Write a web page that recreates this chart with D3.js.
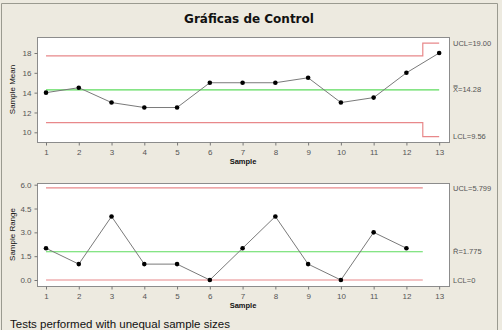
<!DOCTYPE html>
<html><head><meta charset="utf-8">
<script src="https://cdn.jsdelivr.net/npm/d3@7"></script>
<style>
html,body{margin:0;padding:0;background:#EDEAE0;}
svg{display:block;}
</style></head>
<body>
<script>
// ---- data ----
const samples = [1,2,3,4,5,6,7,8,9,10,11,12,13];
const means = [14,14.5,13,12.5,12.5,15,15,15,15.5,13,13.5,16,18];
const meanUCL = [17.7,17.7,17.7,17.7,17.7,17.7,17.7,17.7,17.7,17.7,17.7,17.7,19.0];
const meanLCL = [10.97,10.97,10.97,10.97,10.97,10.97,10.97,10.97,10.97,10.97,10.97,10.97,9.56];
const meanCenter = 14.28;
const meanTicks = [10,12,14,16,18];
const ranges = [2,1,4,1,1,0,2,4,1,0,3,2];
const rangeUCL = 5.799, rangeCenter = 1.775, rangeLCL = 0;
const rangeTicks = [0,1.5,3,4.5,6];
const meanLabels = ["UCL=19.00","X\u033F=14.28","LCL=9.56"];
const rangeLabels = ["UCL=5.799","R\u0304=1.775","LCL=0"];

const W=502,H=330;
const svg=d3.select("body").append("svg").attr("width",W).attr("height",H);
svg.append("rect").attr("width",W).attr("height",H).attr("fill","#EDEAE0");
// window frame
svg.append("path").attr("d","M1.5,330 V3.5 H497.5 V330").attr("fill","none").attr("stroke","#9a9a90").attr("stroke-width",1);

svg.append("text").attr("x",249).attr("y",23).attr("text-anchor","middle")
  .attr("font-family","DejaVu Sans").attr("font-weight","bold").attr("font-size",12).attr("fill","#111")
  .text("Gráficas de Control");

const red="#E8888A", green="#5CDB5C", lineCol="#7a7a7a";
const font="Liberation Sans";

function panel(opts){
  const {top,bottom,yDomain,yTicks,yFmt,ylabel,vals,ucl,lcl,center,labels,labelVals,limEnd} = opts;
  const left=37,right=449;
  const x=d3.scaleLinear().domain([0.725,13.3]).range([left,right]);
  const y=d3.scaleLinear().domain(yDomain).range([opts.y0,opts.y1]);
  const g=svg.append("g");
  g.append("rect").attr("x",left+0.5).attr("y",top+0.5).attr("width",right-left).attr("height",bottom-top)
    .attr("fill","#fff").attr("stroke","#8c8c8c");
  const xa=d3.axisBottom(x).tickValues(samples).tickSize(3).tickFormat(d3.format("d"));
  const gx=g.append("g").attr("transform",`translate(0,${bottom+0.5})`).call(xa);
  const ya=d3.axisLeft(y).tickValues(yTicks).tickSize(3).tickFormat(yFmt);
  const gy=g.append("g").attr("transform",`translate(${left+0.5},0)`).call(ya);
  [gx,gy].forEach(a=>{
    a.select(".domain").remove();
    a.selectAll("line").attr("stroke","#777");
    a.selectAll("text").attr("font-family",font).attr("font-size",8).attr("fill","#555");
  });
  gx.selectAll("text").attr("dy","0.75em");
  const stepLine=(arr)=>{
    const pts=[];
    arr.forEach((v,i)=>{
      const s=samples[i];
      const x0=i===0?s:s-0.5, x1=i===arr.length-1?limEnd:s+0.5;
      pts.push([x(x0),y(v)],[x(x1),y(v)]);
    });
    return pts;
  };
  const ln=d3.line();
  g.append("path").attr("d",ln(stepLine(ucl))).attr("fill","none").attr("stroke",red).attr("stroke-width",1.2);
  g.append("path").attr("d",ln(stepLine(lcl))).attr("fill","none").attr("stroke",red).attr("stroke-width",1.2);
  g.append("path").attr("d",ln(stepLine(center))).attr("fill","none").attr("stroke",green).attr("stroke-width",1.1);
  const pts=vals.map((v,i)=>[x(samples[i]),y(v)]);
  g.append("path").attr("d",ln(pts)).attr("fill","none").attr("stroke",lineCol).attr("stroke-width",1);
  g.selectAll("circle.p").data(pts).enter().append("circle").attr("cx",d=>d[0]).attr("cy",d=>d[1]).attr("r",2.3).attr("fill","#000");
  labels.forEach((t,i)=>{
    g.append("text").attr("x",453).attr("y",y(labelVals[i])).attr("dy","0.35em")
      .attr("font-family",font).attr("font-size",7.5).attr("fill","#555").text(t);
  });
  g.append("text").attr("transform",`translate(15,${(top+bottom)/2}) rotate(-90)`).attr("text-anchor","middle")
    .attr("font-family",font).attr("font-size",8).attr("fill","#111").text(ylabel);
  g.append("text").attr("x",243).attr("y",bottom+22).attr("text-anchor","middle")
    .attr("font-family",font).attr("font-weight","bold").attr("font-size",7.5).attr("fill","#111").text("Sample");
  return {x,y};
}

panel({top:37,bottom:142,y0:132.3,y1:53,yDomain:[10,18],yTicks:meanTicks,yFmt:d3.format("d"),
  ylabel:"Sample Mean",vals:means,ucl:meanUCL,lcl:meanLCL,center:samples.map(()=>meanCenter),
  labels:meanLabels,labelVals:[meanUCL[12],meanCenter,meanLCL[12]],limEnd:13});

const rs=ranges.map(()=>0);
panel({top:183,bottom:286,y0:280,y1:184.7,yDomain:[0,6],yTicks:rangeTicks,yFmt:d3.format(".1f"),
  ylabel:"Sample Range",vals:ranges,ucl:rs.map(()=>rangeUCL),lcl:rs.map(()=>rangeLCL),center:rs.map(()=>rangeCenter),
  labels:rangeLabels,labelVals:[rangeUCL,rangeCenter,rangeLCL],limEnd:12.5});

svg.append("text").attr("x",10).attr("y",328).attr("font-family",font).attr("font-size",11.5).attr("fill","#111")
  .text("Tests performed with unequal sample sizes");
</script>
</body></html>
